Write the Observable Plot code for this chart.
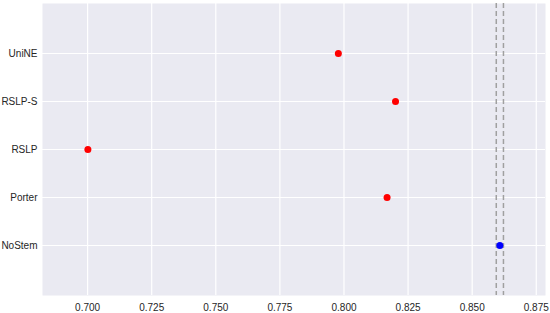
<!DOCTYPE html>
<html>
<head>
<meta charset="utf-8">
<script src="https://cdn.jsdelivr.net/npm/d3@7"></script>
<script src="https://cdn.jsdelivr.net/npm/@observablehq/plot@0.6"></script>
<style>
  html, body { margin: 0; padding: 0; background: #fff; }
  svg { display: block; overflow: visible; }
</style>
</head>
<body>
<div id="chart"></div>
<script>
const methods = ["UniNE", "RSLP-S", "RSLP", "Porter", "NoStem"];
const scores = [0.7978, 0.8201, 0.7001, 0.8168, 0.8608];
const colors = ["red", "red", "red", "red", "blue"];
const refLines = [0.8594, 0.8622];
const xTicks = [0.700, 0.725, 0.750, 0.775, 0.800, 0.825, 0.850, 0.875];

const data = methods.map((m, i) => ({method: m, score: scores[i], color: colors[i]}));

const chart = Plot.plot({
  width: 550,
  height: 313,
  marginLeft: 42,
  marginRight: 5,
  marginTop: 3,
  marginBottom: 18,
  style: {fontFamily: "Liberation Sans, Arial, sans-serif", fontSize: "10px", color: "#262626", background: "#fff"},
  x: {domain: [0.6824, 0.8786], ticks: xTicks, tickFormat: d3.format(".3f"), tickSize: 0, label: null},
  y: {type: "point", domain: methods, padding: 1, tickSize: 0, label: null},
  marks: [
    Plot.frame({fill: "#EAEAF2", stroke: null}),
    Plot.gridX(xTicks, {stroke: "white", strokeOpacity: 1, strokeWidth: 1.2}),
    Plot.gridY(methods, {stroke: "white", strokeOpacity: 1, strokeWidth: 1.2}),
    Plot.ruleX(refLines, {stroke: "#a0a0a0", strokeWidth: 1.5, strokeDasharray: "5,3"}),
    Plot.dot(data, {x: "score", y: "method", fill: "color", r: 3.5, stroke: null}),
    Plot.axisX(xTicks, {tickSize: 0, tickPadding: 8, tickFormat: d3.format(".3f"), label: null}),
    Plot.axisY(methods, {tickSize: 0, tickPadding: 5, label: null})
  ]
});
document.getElementById("chart").appendChild(chart);
</script>
</body>
</html>
